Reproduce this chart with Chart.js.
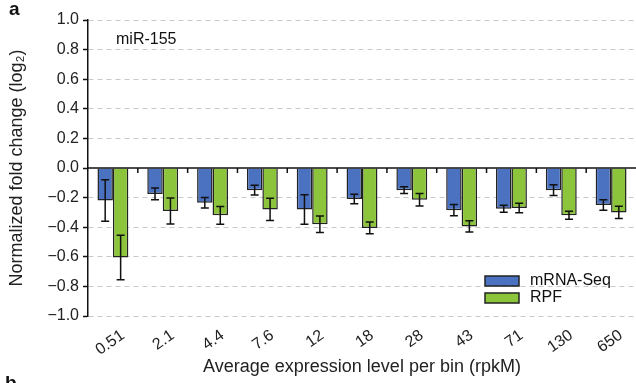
<!DOCTYPE html>
<html>
<head>
<meta charset="utf-8">
<script src="https://cdn.jsdelivr.net/npm/chart.js@4.4.1/dist/chart.umd.min.js"></script>
<style>
  html, body { margin: 0; padding: 0; background: #fff; overflow: hidden; }
  #wrap { position: relative; width: 636px; height: 383px; font-family: "Liberation Sans", Arial, sans-serif; color: #111; }
  .lbl { position: absolute; white-space: nowrap; }
</style>
</head>
<body>
<div id="wrap">
  <canvas id="chart" width="636" height="383"></canvas>
  <div class="lbl" style="left:9px; top:-2px; font-size:19px; font-weight:bold;">a</div>
  <div class="lbl" style="left:116px; top:30px; font-size:16px;">miR-155</div>
  <div class="lbl" style="left:5px; top:372px; font-size:19px; font-weight:bold;">b</div>
</div>
<script>
// expression bins (rpkM)
const bins = ["0.51", "2.1", "4.4", "7.6", "12", "18", "28", "43", "71", "130", "650"];

// normalized fold change (log2) + error bars
const mrnaSeq    = [-0.22, -0.175, -0.235, -0.15, -0.28, -0.21, -0.15, -0.285, -0.275, -0.15, -0.25];
const mrnaSeqErr = [0.14, 0.04, 0.035, 0.033, 0.10, 0.032, 0.023, 0.038, 0.024, 0.036, 0.036];
const rpf        = [-0.605, -0.29, -0.32, -0.28, -0.38, -0.405, -0.215, -0.395, -0.27, -0.32, -0.30];
const rpfErr     = [0.15, 0.088, 0.06, 0.075, 0.055, 0.04, 0.042, 0.038, 0.032, 0.027, 0.042];

const FONT = "'Liberation Sans', Arial, sans-serif";
const BLUE = "#4a72c0";
const GREEN = "#8cc43c";

// error bars, zero line, small ticks between bins, legend
const extras = {
  id: "extras",
  afterDatasetsDraw(chart) {
    const ctx = chart.ctx;
    const x = chart.scales.x, y = chart.scales.y, area = chart.chartArea;
    ctx.save();
    ctx.strokeStyle = "#111";
    ctx.lineWidth = 1.5;
    [[0, mrnaSeq, mrnaSeqErr], [1, rpf, rpfErr]].forEach(([di, vals, errs]) => {
      chart.getDatasetMeta(di).data.forEach((bar, i) => {
        const top = y.getPixelForValue(vals[i] + errs[i]);
        const bot = y.getPixelForValue(vals[i] - errs[i]);
        ctx.beginPath();
        ctx.moveTo(bar.x, top); ctx.lineTo(bar.x, bot);
        ctx.moveTo(bar.x - 4, top); ctx.lineTo(bar.x + 4, top);
        ctx.moveTo(bar.x - 4, bot); ctx.lineTo(bar.x + 4, bot);
        ctx.stroke();
      });
    });

    // zero line
    const y0 = y.getPixelForValue(0);
    ctx.beginPath();
    ctx.moveTo(area.left, y0); ctx.lineTo(area.right, y0);
    ctx.stroke();
    // ticks between bins
    const half = (x.getPixelForValue(1) - x.getPixelForValue(0)) / 2;
    ctx.beginPath();
    for (let i = 0; i < bins.length - 1; i++) {
      const px = x.getPixelForValue(i) + half;
      ctx.moveTo(px, y0); ctx.lineTo(px, y0 + 5);
    }
    ctx.stroke();

    // legend
    const items = [["mRNA-Seq", BLUE], ["RPF", GREEN]];
    ctx.font = "16px " + FONT;
    ctx.textBaseline = "middle";
    items.forEach(([name, col], k) => {
      const ly = 276 + k * 17;
      ctx.fillStyle = col;
      ctx.fillRect(485, ly, 34, 10);
      ctx.lineWidth = 1.5;
      ctx.strokeStyle = "#222";
      ctx.strokeRect(485, ly, 34, 10);
      ctx.fillStyle = "#111";
      ctx.fillText(name, 530, ly + 5);
    });
    ctx.restore();
  }
};

new Chart(document.getElementById("chart"), {
  type: "bar",
  data: {
    labels: bins,
    datasets: [
      { label: "mRNA-Seq", data: mrnaSeq, backgroundColor: BLUE, borderColor: "#222", borderWidth: 1.5 },
      { label: "RPF", data: rpf, backgroundColor: GREEN, borderColor: "#222", borderWidth: 1.5 }
    ]
  },
  options: {
    responsive: false,
    animation: false,
    layout: { padding: { top: 20, right: 0, left: 0, bottom: 0 } },
    datasets: { bar: { categoryPercentage: 0.62, barPercentage: 1.0 } },
    plugins: { legend: { display: false }, tooltip: { enabled: false } },
    scales: {
      x: {
        afterFit: (s) => { s.height = 67; },
        grid: { display: false },
        border: { display: false },
        ticks: {
          color: "#222",
          font: { family: FONT, size: 16 },
          maxRotation: 35, minRotation: 35,
          labelOffset: 10,
          padding: 2
        },
        title: {
          display: true,
          text: "Average expression level per bin (rpkM)",
          color: "#222",
          font: { family: FONT, size: 18 },
          padding: { top: 0, bottom: 5 }
        }
      },
      y: {
        min: -1, max: 1,
        afterFit: (s) => { s.width = 88; },
        ticks: {
          stepSize: 0.2,
          color: "#222",
          font: { family: FONT, size: 16 },
          padding: 4,
          callback: (v) => Math.abs(v) < 1e-9 ? "0.0" : v.toFixed(1).replace("-", "\u2212")
        },
        grid: {
          color: (c) => Math.abs(c.tick.value) < 1e-9 ? "rgba(0,0,0,0)" : "#c8c8c8",
          lineWidth: 1,
          tickColor: "#111",
          tickLength: 5,
          tickWidth: 1.5
        },
        border: { color: "#111", width: 1.5, dash: [5, 4] },
        title: {
          display: true,
          text: "Normalized fold change (log\u2082)",
          color: "#222",
          font: { family: FONT, size: 18 },
          padding: { top: 6, bottom: 0 }
        }
      }
    }
  },
  plugins: [extras]
});
</script>
</body>
</html>
